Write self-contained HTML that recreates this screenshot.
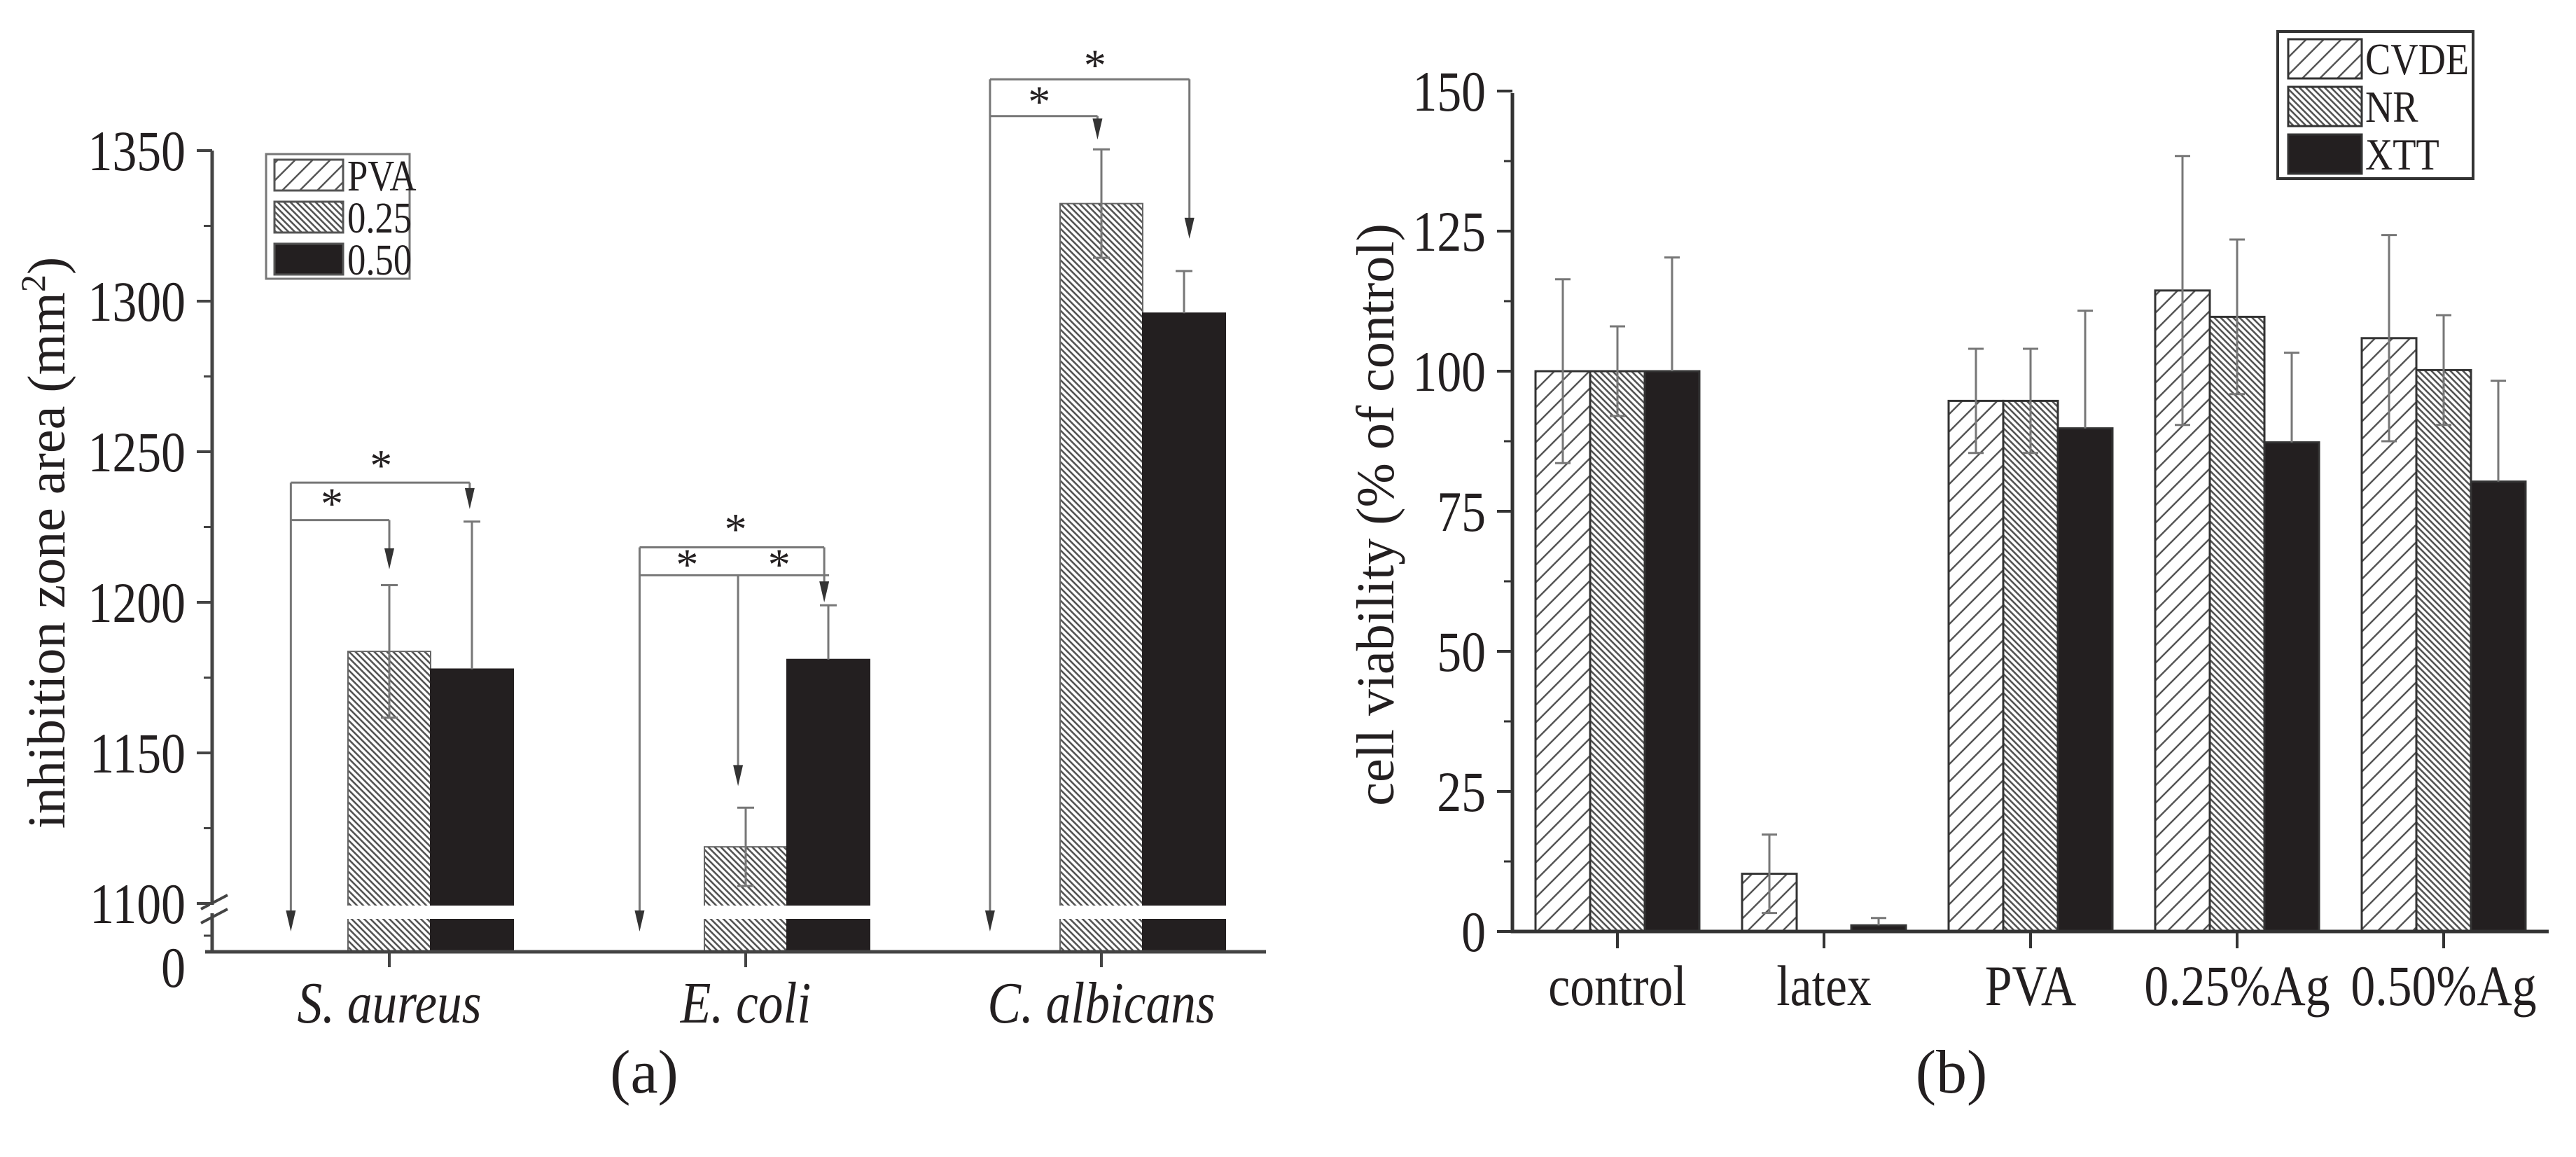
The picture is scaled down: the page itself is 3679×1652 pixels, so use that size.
<!DOCTYPE html>
<html><head><meta charset="utf-8"><style>
html,body{margin:0;padding:0;background:#fff}
svg{display:block}
text{font-family:"Liberation Serif",serif;fill:#231f20}
</style></head><body>
<svg id="fig" xmlns="http://www.w3.org/2000/svg" width="3679" height="1652" viewBox="0 0 3679 1652">
<defs>
<pattern id="hatchA" patternUnits="userSpaceOnUse" width="25" height="25">
<rect width="25" height="25" fill="#fff"/>
<path d="M-5,30 L30,-5 M-5,5 L5,-5 M20,30 L30,20" stroke="#555" stroke-width="2.5"/>
</pattern>
<pattern id="hatchB" patternUnits="userSpaceOnUse" width="9" height="9">
<rect width="9" height="9" fill="#fff"/>
<path d="M-2,-2 L11,11 M-2,7 L2,11 M7,-2 L11,2" stroke="#555" stroke-width="2.6"/>
</pattern>
</defs>
<g id="left"></g>
<g id="right"></g>
</svg>
<script>
// ---- Left chart data ----
const leftCategories = ["S. aureus", "E. coli", "C. albicans"];
const leftSeriesNames = ["PVA", "0.25", "0.50"];
const leftVals025 = [1183.7, 1118.8, 1332.4];
const leftErr025 = [22, 13, 18];
const leftVals050 = [1177.8, 1181, 1296];
const leftErr050 = [49, 18, 14];
const leftTicks = [1100, 1150, 1200, 1250, 1300, 1350];
// ---- Right chart data ----
const rightCategories = ["control", "latex", "PVA", "0.25%Ag", "0.50%Ag"];
const rightSeriesNames = ["CVDE", "NR", "XTT"];
const cvdeVals = [100, 10.3, 94.7, 114.4, 105.9];
const cvdeErr = [16.4, 7, 9.3, 24, 18.4];
const nrVals = [100, 0, 94.7, 109.7, 100.2];
const nrErr = [8, 0, 9.3, 13.8, 9.8];
const xttVals = [100, 1.1, 89.8, 87.3, 80.3];
const xttErr = [20.3, 1.3, 21, 16, 18];
const rightTicks = [0, 25, 50, 75, 100, 125, 150];

const NS = "http://www.w3.org/2000/svg";
function mk(parent, tag, attrs, txt) {
  const e = document.createElementNS(NS, tag);
  for (const k in attrs) e.setAttribute(k, attrs[k]);
  if (txt !== undefined) e.textContent = txt;
  parent.appendChild(e);
  return e;
}
const fills = ["url(#hatchA)", "url(#hatchB)", "#231f20"];

// ===== LEFT =====
const L = document.getElementById("left");
const lAxX = 303, lAxY = 1359, lRight = 1808;
const lCat = [556, 1065, 1573];
const lBW = 118;
function yL(v) { return 1290 - (v - 1100) * 4.3; }
function xLcat(i) { return lCat[i]; }
[[leftVals025, leftErr025, 1], [leftVals050, leftErr050, 2]].forEach(([vals, errs, s]) => {
  vals.forEach((v, i) => {
    const x = xLcat(i) + (s - 1) * lBW - lBW / 2;
    const b = mk(L, "rect", {x: x, y: yL(v), width: lBW, height: lAxY - yL(v), fill: fills[s], stroke: s === 2 ? "#231f20" : "#666", "stroke-width": 2});
    
    
    const cx = x + lBW / 2;
    const eb = mk(L, "path", {d: `M${cx},${yL(v + errs[i])} L${cx},${s === 1 ? yL(v - errs[i]) : yL(v)} M${cx - 12},${yL(v + errs[i])} L${cx + 12},${yL(v + errs[i])}` + (s === 1 ? ` M${cx - 12},${yL(v - errs[i])} L${cx + 12},${yL(v - errs[i])}` : ""), stroke: "#777", "stroke-width": 3, fill: "none"});
    
    
  });
});
const gap = mk(L, "rect", {x: lAxX + 4, y: 1293, width: lRight - lAxX, height: 19, fill: "#fff"});


const lax = mk(L, "path", {d: `M${lAxX},215 L${lAxX},${lAxY} M${lAxX - 10},${lAxY} L${lRight},${lAxY}`, stroke: "#444", "stroke-width": 5, fill: "none"});


mk(L, "path", {d: `M${lAxX - 16},1298 L${lAxX + 22},1278 M${lAxX - 16},1318 L${lAxX + 22},1298`, stroke: "#444", "stroke-width": 4, fill: "none"});
mk(L, "rect", {x: lAxX - 3, y: 1292, width: 7, height: 12, fill: "#fff"});
leftTicks.forEach((t, i) => {
  const y = yL(t);
  mk(L, "line", {x1: lAxX - 22, y1: y, x2: lAxX, y2: y, stroke: "#444", "stroke-width": 4});
  if (i < leftTicks.length - 1) mk(L, "line", {x1: lAxX - 12, y1: yL(t + 25), x2: lAxX, y2: yL(t + 25), stroke: "#444", "stroke-width": 3});
  const tl = mk(L, "text", {x: lAxX - 38, y: y + 28, "font-size": 82, "text-anchor": "end", class: "cond"}, String(t));
  
  
});
mk(L, "line", {x1: lAxX - 12, y1: 1336, x2: lAxX, y2: 1336, stroke: "#444", "stroke-width": 3});
const z0 = mk(L, "text", {x: lAxX - 38, y: lAxY + 50, "font-size": 82, "text-anchor": "end", class: "cond"}, "0");


leftCategories.forEach((c, i) => {
  mk(L, "line", {x1: xLcat(i), y1: lAxY, x2: xLcat(i), y2: lAxY + 22, stroke: "#444", "stroke-width": 4});
  const t = mk(L, "text", {x: xLcat(i), y: 1460, "font-size": 84, "font-style": "italic", "text-anchor": "middle", class: "cond"}, c);
  
  
});
const ylab = mk(L, "text", {x: 0, y: 0, "font-size": 76, "text-anchor": "middle", transform: "translate(92,775) rotate(-90)"});


ylab.innerHTML = 'inhibition zone area (mm<tspan dy="-28" font-size="50">2</tspan><tspan dy="28">)</tspan>';
const lg = mk(L, "g", {});


mk(lg, "rect", {x: 380, y: 220, width: 205, height: 178, fill: "#fff", stroke: "#777", "stroke-width": 3});
[0, 1, 2].forEach(s => {
  const cy = 250 + s * 60;
  mk(lg, "rect", {x: 392, y: cy - 22, width: 98, height: 44, fill: fills[s], stroke: "#555", "stroke-width": 3});
  const t = mk(lg, "text", {x: 496, y: cy + 22, "font-size": 62, class: "cond"}, leftSeriesNames[s]);
  
  
});
function AX(z) { return 556 + (z - 475) * 1.172; }
function AY(z) { return 215 + (z - 200) * 1.049; }
const ann = mk(L, "g", {stroke: "#777", "stroke-width": 3, fill: "none"});


function arrowDown(x, y1, y2) {
  mk(ann, "line", {x1: x, y1: y1, x2: x, y2: y2 - 20});
  mk(ann, "path", {d: `M${x - 7},${y2 - 30} L${x + 7},${y2 - 30} L${x},${y2} Z`, fill: "#333", stroke: "none"});
}
function star(x, y) {
  const s = mk(L, "text", {x: x, y: y + 22, "font-size": 64, "text-anchor": "middle"}, "*");
  
  
}
const groups = [
  {pva: 355, a: 475, b: 573, outer: 652, inner: 703, aEnd: 770, bEnd: 688, s1: [465, 628], s2: [405, 680]},
  {pva: 780, a: 900, b: 1005, outer: 740, inner: 778, aEnd: 1065, bEnd: 815, s1: [897, 715], s2: [838, 763], s3: [950, 763]},
  {pva: 1207, a: 1338, b: 1450, outer: 103, inner: 153, aEnd: 185, bEnd: 320, s1: [1335, 83], s2: [1267, 133]}
];
groups.forEach(g => {
  mk(ann, "path", {d: `M${AX(g.pva)},${AY(g.outer)} L${AX(g.b)},${AY(g.outer)} M${AX(g.pva)},${AY(g.inner)} L${AX(g.a) + (g.s3 ? 130 : 0)},${AY(g.inner)}`});
  arrowDown(AX(g.a), AY(g.inner), AY(g.aEnd));
  arrowDown(AX(g.b), AY(g.outer), AY(g.bEnd));
  arrowDown(AX(g.pva), AY(g.outer), 1330);
  star(AX(g.s1[0]), AY(g.s1[1]));
  star(AX(g.s2[0]), AY(g.s2[1]));
  if (g.s3) star(AX(g.s3[0]), AY(g.s3[1]));
});
const capA = mk(L, "text", {x: 920, y: 1560, "font-size": 88, "text-anchor": "middle"}, "(a)");



// ===== RIGHT =====
const R = document.getElementById("right");
const rAxX = 2160, rAxY = 1330, rRight = 3640, rTop = 133;
const rCat0 = 2310, rStep = 295, rBW = 78;
function yR(v) { return rAxY - v * 8; }
function xR(i) { return rCat0 + i * rStep; }
[[cvdeVals, cvdeErr], [nrVals, nrErr], [xttVals, xttErr]].forEach(([vals, errs], s) => {
  vals.forEach((v, i) => {
    const x = xR(i) + (s - 1) * rBW - rBW / 2;
    if (v > 0) {
      const b = mk(R, "rect", {x: x, y: yR(v), width: rBW, height: rAxY - yR(v), fill: fills[s], stroke: "#333", "stroke-width": 3});
      
      
    }
    if (errs[i] > 0) {
      const cx = x + rBW / 2, yt = yR(v + errs[i]), yb = s < 2 ? yR(v - errs[i]) : yR(v);
      const eb = mk(R, "path", {d: `M${cx},${yt} L${cx},${yb} M${cx - 11},${yt} L${cx + 11},${yt}` + (s < 2 ? ` M${cx - 11},${yb} L${cx + 11},${yb}` : ""), stroke: "#777", "stroke-width": 3, fill: "none"});
      
      
    }
  });
});
const rax = mk(R, "path", {d: `M${rAxX},${rTop} L${rAxX},${rAxY} L${rRight},${rAxY}`, stroke: "#333", "stroke-width": 5, fill: "none"});


rightTicks.forEach((t, i) => {
  const y = yR(t);
  mk(R, "line", {x1: rAxX - 22, y1: y, x2: rAxX, y2: y, stroke: "#333", "stroke-width": 4});
  if (i < rightTicks.length - 1) mk(R, "line", {x1: rAxX - 12, y1: yR(t + 12.5), x2: rAxX, y2: yR(t + 12.5), stroke: "#333", "stroke-width": 3});
  const tl = mk(R, "text", {x: rAxX - 38, y: y + 28, "font-size": 82, "text-anchor": "end", class: "cond"}, String(t));
  
  
});
rightCategories.forEach((c, i) => {
  mk(R, "line", {x1: xR(i), y1: rAxY, x2: xR(i), y2: rAxY + 24, stroke: "#333", "stroke-width": 4});
  const t = mk(R, "text", {x: xR(i), y: 1435, "font-size": 82, "text-anchor": "middle", class: "cond"}, c);
  
  
});
const ylabR = mk(R, "text", {x: 0, y: 0, "font-size": 76, "text-anchor": "middle", transform: "translate(1990,735) rotate(-90)"}, "cell viability (% of control)");


const lg2 = mk(R, "g", {});


mk(lg2, "rect", {x: 3253, y: 45, width: 279, height: 210, fill: "#fff", stroke: "#333", "stroke-width": 4});
[0, 1, 2].forEach(s => {
  const cy = 84 + s * 68;
  mk(lg2, "rect", {x: 3268, y: cy - 28, width: 105, height: 56, fill: fills[s], stroke: "#333", "stroke-width": 3});
  const t = mk(lg2, "text", {x: 3378, y: cy + 22, "font-size": 64, class: "cond"}, rightSeriesNames[s]);
  
  
});
const capB = mk(R, "text", {x: 2787, y: 1560, "font-size": 88, "text-anchor": "middle"}, "(b)");



// condense text horizontally like the narrow reference typeface
document.querySelectorAll("text.cond").forEach(t => {
  const w = t.getComputedTextLength();
  t.setAttribute("textLength", (w * 0.85).toFixed(1));
  t.setAttribute("lengthAdjust", "spacingAndGlyphs");
});
</script>
</body></html>
